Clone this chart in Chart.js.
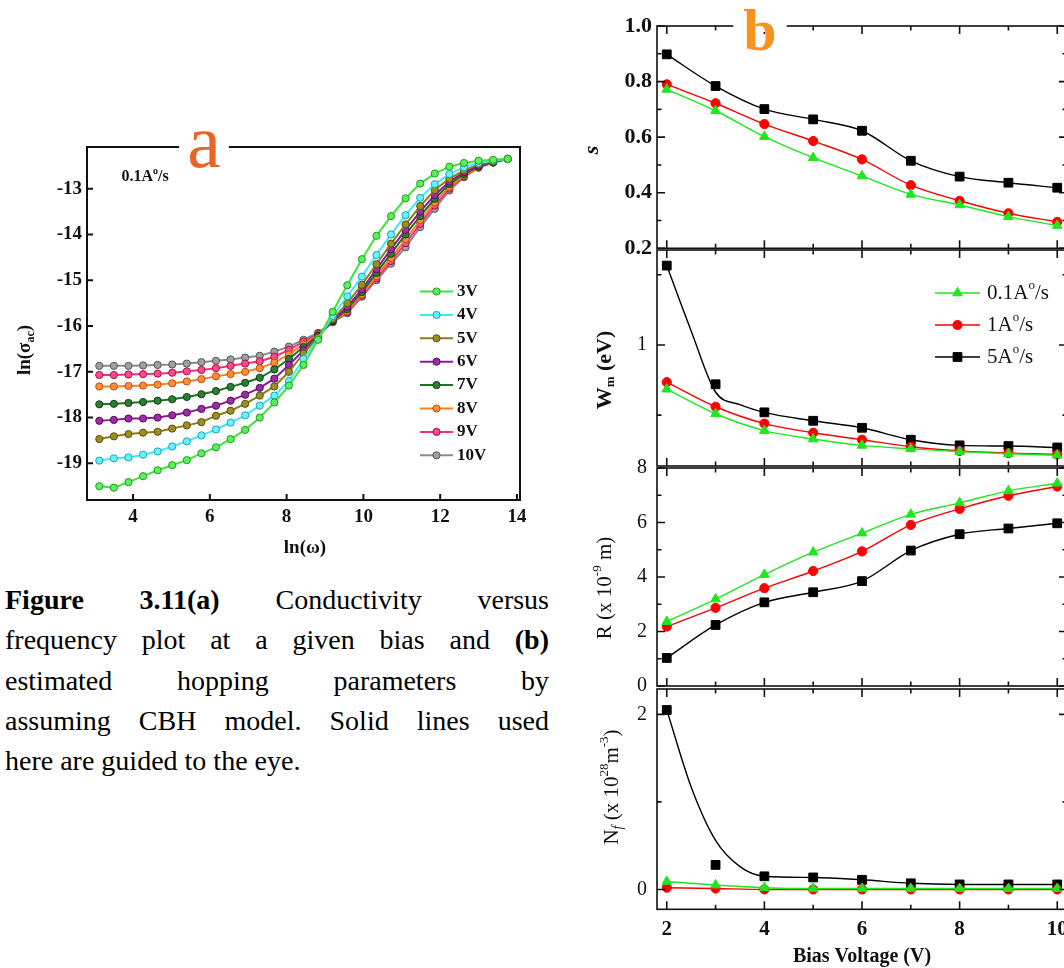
<!DOCTYPE html>
<html lang="en">
<head>
<meta charset="utf-8">
<title>Conductivity and hopping parameters</title>
<script src="https://cdn.jsdelivr.net/npm/chart.js@4.4.1/dist/chart.umd.min.js"></script>
<style>
    html, body { margin: 0; padding: 0; background: #fff; }
    body { position: relative; width: 1064px; height: 968px; overflow: hidden; }
    canvas { position: absolute; }
    #chartA { left: 0; top: 130px; }
    #chartS { left: 560px; top: 0; }
    #chartW { left: 560px; top: 228px; }
    #chartR { left: 560px; top: 446px; }
    #chartN { left: 560px; top: 667px; }
    #caption {
        position: absolute; left: 5px; top: 580px; width: 544px;
        font-family: "Liberation Serif", "Times New Roman", serif;
        font-size: 28px; line-height: 40.3px; color: #000;
    }
    #caption div { text-align: justify; text-align-last: justify; white-space: nowrap; }
    #caption div.last { text-align-last: left; }
</style>
</head>
<body>
<canvas id="chartA" width="545" height="440"></canvas>
<canvas id="chartS" width="522" height="270"></canvas>
<canvas id="chartW" width="522" height="260"></canvas>
<canvas id="chartR" width="522" height="262"></canvas>
<canvas id="chartN" width="522" height="301"></canvas>

<div id="caption">
    <div><b>Figure 3.11(a)</b> Conductivity versus</div>
    <div>frequency plot at a given bias and <b>(b)</b></div>
    <div>estimated hopping parameters by</div>
    <div>assuming CBH model. Solid lines used</div>
    <div class="last">here are guided to the eye.</div>
</div>

<script>
const SERIF = '"Liberation Serif", "Times New Roman", serif';

// ---------- (a) ln(sigma_ac) vs ln(omega), 0.1 A/s film ----------
const lnOmega = [3.12, 3.50, 3.88, 4.26, 4.64, 5.02, 5.40, 5.78, 6.16, 6.54, 6.92, 7.30, 7.68, 8.06, 8.44,
                 8.82, 9.20, 9.58, 9.96, 10.34, 10.72, 11.10, 11.48, 11.86, 12.24, 12.62, 13.00, 13.38, 13.76];
const sig3V  = [-19.50, -19.53, -19.41, -19.28, -19.15, -19.04, -18.93, -18.78, -18.65, -18.47, -18.27, -18.00, -17.67, -17.30, -16.85,
                -16.30, -15.69, -15.11, -14.54, -14.03, -13.60, -13.21, -12.89, -12.67, -12.52, -12.44, -12.39, -12.37, -12.35];
const sig4V  = [-18.94, -18.89, -18.87, -18.81, -18.74, -18.63, -18.52, -18.39, -18.26, -18.11, -17.95, -17.74, -17.52, -17.20, -16.72,
                -16.28, -15.78, -15.35, -14.92, -14.45, -14.00, -13.58, -13.20, -12.90, -12.68, -12.53, -12.44, -12.39, -12.35];
const sig5V  = [-18.47, -18.41, -18.36, -18.33, -18.31, -18.24, -18.17, -18.10, -17.96, -17.85, -17.70, -17.52, -17.32, -17.00, -16.60,
                -16.25, -15.85, -15.50, -15.10, -14.65, -14.20, -13.78, -13.38, -13.03, -12.78, -12.60, -12.47, -12.40, -12.35];
const sig6V  = [-18.07, -18.05, -18.02, -18.02, -18.00, -17.95, -17.89, -17.81, -17.74, -17.63, -17.50, -17.35, -17.15, -16.85, -16.53,
                -16.23, -15.88, -15.58, -15.20, -14.76, -14.32, -13.90, -13.50, -13.14, -12.85, -12.64, -12.50, -12.41, -12.35];
const sig7V  = [-17.71, -17.70, -17.68, -17.66, -17.63, -17.60, -17.55, -17.49, -17.42, -17.33, -17.24, -17.13, -16.95, -16.72, -16.46,
                -16.21, -15.90, -15.63, -15.26, -14.84, -14.42, -14.00, -13.60, -13.22, -12.90, -12.68, -12.52, -12.42, -12.35];
const sig8V  = [-17.32, -17.32, -17.31, -17.30, -17.28, -17.25, -17.21, -17.16, -17.10, -17.05, -17.00, -16.92, -16.80, -16.62, -16.40,
                -16.19, -15.91, -15.67, -15.31, -14.91, -14.51, -14.10, -13.69, -13.30, -12.96, -12.71, -12.53, -12.43, -12.35];
const sig9V  = [-17.07, -17.07, -17.06, -17.05, -17.04, -17.02, -16.99, -16.96, -16.92, -16.87, -16.82, -16.77, -16.67, -16.52, -16.34,
                -16.17, -15.91, -15.70, -15.34, -14.96, -14.58, -14.19, -13.77, -13.37, -13.00, -12.73, -12.54, -12.43, -12.35];
const sig10V = [-16.87, -16.87, -16.87, -16.86, -16.85, -16.84, -16.82, -16.79, -16.76, -16.73, -16.69, -16.65, -16.56, -16.45, -16.30,
                -16.15, -15.92, -15.72, -15.36, -15.00, -14.64, -14.28, -13.84, -13.44, -13.04, -12.75, -12.54, -12.43, -12.35];
const biasNames = ["3V", "4V", "5V", "6V", "7V", "8V", "9V", "10V"];
const aXTicks = [4, 6, 8, 10, 12, 14];
const aYTicks = [-13, -14, -15, -16, -17, -18, -19];

// ---------- (b) hopping parameters vs bias voltage ----------
const biasV = [2, 3, 4, 5, 6, 7, 8, 9, 10];
const rateNames = ["0.1A°/s", "1A°/s", "5A°/s"];

const s01 = [0.772, 0.695, 0.602, 0.526, 0.460, 0.394, 0.356, 0.314, 0.282];
const s1  = [0.790, 0.722, 0.647, 0.586, 0.520, 0.427, 0.371, 0.326, 0.295];
const s5  = [0.898, 0.784, 0.701, 0.664, 0.623, 0.515, 0.458, 0.436, 0.418];

const wm01 = [0.937, 0.902, 0.878, 0.866, 0.857, 0.852, 0.848, 0.845, 0.843];
const wm1  = [0.947, 0.912, 0.888, 0.875, 0.865, 0.855, 0.849, 0.846, 0.844];
const wm5  = [1.113, 0.944, 0.904, 0.892, 0.882, 0.865, 0.857, 0.856, 0.854];
// guide curve for the 5 A/s film (does not pass through every point)
const wm5GuideV = [2, 2.5, 3, 3.5, 4, 5, 6, 7, 8, 9, 10];
const wm5Guide  = [1.113, 1.02, 0.933, 0.915, 0.904, 0.892, 0.882, 0.865, 0.857, 0.856, 0.854];

const r01 = [2.36, 3.19, 4.09, 4.91, 5.61, 6.30, 6.72, 7.16, 7.44];
const r1  = [2.18, 2.87, 3.59, 4.22, 4.94, 5.91, 6.50, 6.98, 7.32];
const r5  = [1.03, 2.24, 3.07, 3.44, 3.85, 4.97, 5.57, 5.78, 5.97];

const nf01 = [0.09, 0.05, 0.02, 0.01, 0.01, 0.01, 0.01, 0.01, 0.01];
const nf1  = [0.02, 0.01, 0.0, 0.0, 0.0, 0.0, 0.0, 0.0, 0.0];
const nf5  = [2.05, 0.28, 0.15, 0.137, 0.11, 0.07, 0.057, 0.057, 0.057];
const nf5GuideV = [2, 2.5, 3, 3.5, 4, 5, 6, 7, 8, 9, 10];
const nf5Guide  = [2.05, 1.17, 0.56, 0.26, 0.15, 0.137, 0.11, 0.07, 0.057, 0.057, 0.057];

const bXTicks = [2, 4, 6, 8, 10];
const bXMinor = [3, 5, 7, 9];
const sTicks = [0.2, 0.4, 0.6, 0.8, 1.0];
const sMinor = [0.3, 0.5, 0.7, 0.9];
const wmTicks = [1.0];
const wmMinor = [0.9, 1.1];
const rTicks = [0, 2, 4, 6, 8];
const rMinor = [1, 3, 5, 7];
const nfTicks = [0, 2];
const nfMinor = [1];

// ---------- drawing helpers ----------
const pts = (xs, ys) => xs.map((x, i) => ({ x: x, y: ys[i] }));

function drawMarker(ctx, style, x, y, r, fill, stroke) {
    ctx.beginPath();
    if (style === "rect") {
        const h = r * Math.SQRT1_2;
        ctx.rect(x - h, y - h, 2 * h, 2 * h);
    } else if (style === "triangle") {
        for (let k = 0; k < 3; k++) {
            const ang = k * 2 * Math.PI / 3;
            const px = x + Math.sin(ang) * r, py = y - Math.cos(ang) * r;
            if (k) ctx.lineTo(px, py); else ctx.moveTo(px, py);
        }
        ctx.closePath();
    } else {
        ctx.arc(x, y, r, 0, 2 * Math.PI);
    }
    ctx.fillStyle = fill;
    ctx.fill();
    ctx.lineWidth = 1;
    ctx.strokeStyle = stroke;
    ctx.stroke();
}

// text made of runs (sub/superscripts), optionally rotated
function drawRuns(ctx, it) {
    ctx.save();
    ctx.translate(it.x, it.y);
    if (it.rot) ctx.rotate(it.rot);
    const ws = it.runs.map(r => { ctx.font = r.font; return ctx.measureText(r.t).width; });
    const w = ws.reduce((a, b) => a + b, 0);
    let x = it.align === "left" ? 0 : -w / 2;
    if (it.bg) {
        ctx.fillStyle = it.bg;
        ctx.fillRect(x - it.bgPad, it.bgTop, w + 2 * it.bgPad, it.bgH);
    }
    ctx.textBaseline = it.baseline || "middle";
    ctx.textAlign = "left";
    it.runs.forEach((r, i) => {
        ctx.font = r.font;
        ctx.fillStyle = r.color || "#111";
        ctx.fillText(r.t, x, r.dy || 0);
        x += ws[i];
    });
    ctx.restore();
}

function textLayer(items) {
    return { id: "textLayer", afterDraw(chart) { items.forEach(it => drawRuns(chart.ctx, it)); } };
}

// closed frame with inward tick marks
function frameLayer(o) {
    return {
        id: "frameLayer",
        afterDatasetsDraw(chart) {
            const { ctx, chartArea: a } = chart;
            const sx = chart.scales.x, sy = chart.scales.y;
            ctx.save();
            ctx.strokeStyle = "#111";
            ctx.lineWidth = o.lineWidth;
            ctx.beginPath();
            const xMark = (vals, len) => vals.forEach(v => {
                const p = sx.getPixelForValue(v);
                ctx.moveTo(p, a.bottom); ctx.lineTo(p, a.bottom - len);
                if (o.allSides) { ctx.moveTo(p, a.top); ctx.lineTo(p, a.top + len); }
            });
            const yMark = (vals, len) => vals.forEach(v => {
                const p = sy.getPixelForValue(v);
                ctx.moveTo(a.left, p); ctx.lineTo(a.left + len, p);
                if (o.allSides) { ctx.moveTo(a.right, p); ctx.lineTo(a.right - len, p); }
            });
            xMark(o.xMajor, o.majorLen);
            xMark(o.xMinor || [], o.minorLen);
            yMark(o.yMajor, o.majorLen);
            yMark(o.yMinor || [], o.minorLen);
            ctx.stroke();
            ctx.strokeRect(a.left, a.top, a.right - a.left, a.bottom - a.top);
            ctx.restore();
        }
    };
}

// legend drawn inside the plot area
function legendLayer(entries, g) {
    return {
        id: "legendLayer",
        afterDraw(chart) {
            const ctx = chart.ctx;
            entries.forEach((e, i) => {
                const y = g.y0 + i * g.dy;
                ctx.save();
                ctx.strokeStyle = e.line;
                ctx.lineWidth = g.lineWidth;
                ctx.beginPath();
                ctx.moveTo(g.x0, y); ctx.lineTo(g.x1, y);
                ctx.stroke();
                drawMarker(ctx, e.style, (g.x0 + g.x1) / 2, y, e.r, e.fill, e.stroke);
                ctx.restore();
                drawRuns(ctx, { x: g.tx, y: y, align: "left", runs: e.runs });
            });
        }
    };
}

// ---------- panel (a) ----------
const aSeries = [sig3V, sig4V, sig5V, sig6V, sig7V, sig8V, sig9V, sig10V];
const aColors = [
    { line: "#3ee43e", fill: "#5cf05c", edge: "#1c9c1c" },
    { line: "#3fe8f7", fill: "#6cf2ff", edge: "#17a4b6" },
    { line: "#8c7f16", fill: "#9c8e22", edge: "#5a5008" },
    { line: "#8c1c94", fill: "#a02aa8", edge: "#520f5a" },
    { line: "#1f7028", fill: "#2b7e33", edge: "#0f4214" },
    { line: "#ff7b22", fill: "#ff8c36", edge: "#b4520c" },
    { line: "#f5317c", fill: "#ff4c8e", edge: "#a0104a" },
    { line: "#8c8c8c", fill: "#a0a0a0", edge: "#555555" }
];

new Chart(document.getElementById("chartA"), {
    type: "line",
    data: {
        datasets: aSeries.map((ys, k) => ({
            label: biasNames[k],
            data: pts(lnOmega, ys),
            borderColor: aColors[k].line,
            borderWidth: 2,
            pointRadius: 3.6,
            pointBorderWidth: 1,
            pointBackgroundColor: aColors[k].fill,
            pointBorderColor: aColors[k].edge,
            tension: 0
        }))
    },
    options: {
        responsive: false,
        animation: false,
        devicePixelRatio: 1,
        layout: { padding: { left: 27, top: 17, right: 25, bottom: 20 } },
        plugins: { legend: { display: false }, tooltip: { enabled: false } },
        scales: {
            x: {
                type: "linear", min: 2.8, max: 14.08,
                afterBuildTicks: s => { s.ticks = aXTicks.map(v => ({ value: v })); },
                afterFit: s => { s.height = 50; },
                grid: { display: false, drawTicks: false },
                border: { display: false },
                ticks: { padding: 6, color: "#111", font: { family: SERIF, size: 19, weight: "bold" } }
            },
            y: {
                type: "linear", min: -19.8, max: -12.09,
                afterBuildTicks: s => { s.ticks = aYTicks.map(v => ({ value: v })); },
                afterFit: s => { s.width = 60; },
                grid: { display: false, drawTicks: false },
                border: { display: false },
                ticks: { padding: 5, color: "#111", font: { family: SERIF, size: 19, weight: "bold" } }
            }
        }
    },
    plugins: [
        frameLayer({ lineWidth: 2, allSides: false, xMajor: aXTicks, yMajor: aYTicks, majorLen: 6 }),
        legendLayer(biasNames.map((n, k) => ({
            line: aColors[k].line, style: "circle", r: 3.6, fill: aColors[k].fill, stroke: aColors[k].edge,
            runs: [{ t: n, font: "bold 17px " + SERIF }]
        })), { x0: 420, x1: 453, tx: 457, y0: 161.5, dy: 23.4, lineWidth: 2 }),
        textLayer([
            { x: 204, y: 37, baseline: "alphabetic", bg: "#fff", bgPad: 8, bgTop: -27, bgH: 14,
              runs: [{ t: "a", font: "76px " + SERIF, color: "#ea642a" }] },
            { x: 145, y: 47, runs: [
                { t: "0.1A", font: "bold 16px " + SERIF },
                { t: "o", font: "bold 10px " + SERIF, dy: -6 },
                { t: "/s", font: "bold 16px " + SERIF }] },
            { x: 25, y: 220, rot: -Math.PI / 2, runs: [
                { t: "ln(σ", font: "bold 19px " + SERIF },
                { t: "ac", font: "bold 12px " + SERIF, dy: 6 },
                { t: ")", font: "bold 19px " + SERIF }] },
            { x: 305, y: 418, runs: [{ t: "ln(ω)", font: "bold 19px " + SERIF }] }
        ])
    ]
});

// ---------- panel (b) ----------
const bStyles = [
    { color: "#1fe61f", style: "triangle", r: 5.6 },
    { color: "#ff0000", style: "circle", r: 4.6 },
    { color: "#000000", style: "rect", r: 6.2 }
];

function rateSet(k, ys, extra) {
    const st = bStyles[k];
    return Object.assign({
        label: rateNames[k],
        data: pts(biasV, ys),
        borderColor: st.color,
        borderWidth: 1.4,
        pointStyle: st.style,
        pointRadius: st.r,
        pointBackgroundColor: st.color,
        pointBorderColor: st.color,
        pointBorderWidth: 1,
        cubicInterpolationMode: "monotone"
    }, extra || {});
}

function guideSet(xs, ys) {
    return {
        data: pts(xs, ys),
        borderColor: "#000",
        borderWidth: 1.4,
        pointRadius: 0,
        cubicInterpolationMode: "monotone"
    };
}

function hopChart(id, c) {
    return new Chart(document.getElementById(id), {
        type: "line",
        data: { datasets: c.datasets },
        options: {
            responsive: false,
            animation: false,
            devicePixelRatio: 1,
            layout: { padding: c.padding },
            plugins: { legend: { display: false }, tooltip: { enabled: false } },
            scales: {
                x: {
                    type: "linear", min: 1.8, max: 10.2,
                    display: !!c.showX,
                    afterBuildTicks: s => { s.ticks = bXTicks.map(v => ({ value: v })); },
                    afterFit: s => { s.height = c.xHeight || 0; },
                    grid: { display: false, drawTicks: false },
                    border: { display: false },
                    ticks: { padding: 8, color: "#111", font: { family: SERIF, size: 21, weight: "bold" } }
                },
                y: {
                    type: "linear", min: c.min, max: c.max,
                    afterBuildTicks: s => { s.ticks = c.yTicks.map(v => ({ value: v })); },
                    afterFit: s => { s.width = 50; },
                    grid: { display: false, drawTicks: false },
                    border: { display: false },
                    ticks: {
                        padding: c.tickPad, color: "#111",
                        font: { family: SERIF, size: c.tickSize, weight: c.tickWeight },
                        callback: c.fmt
                    }
                }
            }
        },
        plugins: [
            frameLayer({ lineWidth: 1.6, allSides: true, xMajor: bXTicks, xMinor: bXMinor,
                         yMajor: c.yTicks, yMinor: c.yMinor, majorLen: 8, minorLen: 4.5 })
        ].concat(c.layers || [])
    });
}

const rateRuns = (name, size) => {
    const [pre, post] = name.split("°");
    return [
        { t: pre, font: size + "px " + SERIF },
        { t: "o", font: Math.round(size * 0.6) + "px " + SERIF, dy: -7 },
        { t: post, font: size + "px " + SERIF }
    ];
};

// s
hopChart("chartS", {
    padding: { left: 47, top: 26, right: 15, bottom: 21.7 },
    min: 0.2, max: 1.0, yTicks: sTicks, yMinor: sMinor,
    tickPad: 5, tickSize: 22, tickWeight: "bold", fmt: v => v.toFixed(1),
    datasets: [rateSet(0, s01), rateSet(1, s1), rateSet(2, s5)],
    layers: [textLayer([
        { x: 200, y: 50, baseline: "alphabetic", bg: "#fff", bgPad: 10, bgTop: -30, bgH: 12,
          runs: [{ t: "b", font: "bold 60px " + SERIF, color: "#f7931e" }] },
        { x: 32, y: 150, rot: -Math.PI / 2, runs: [{ t: "s", font: "italic bold 22px " + SERIF }] }
    ])]
});

// W_m
hopChart("chartW", {
    padding: { left: 47, top: 20.3, right: 15, bottom: 21.3 },
    min: 0.8276, max: 1.1352, yTicks: wmTicks, yMinor: wmMinor,
    tickPad: 10, tickSize: 20, tickWeight: "normal", fmt: v => String(Math.round(v)),
    datasets: [
        rateSet(0, wm01), rateSet(1, wm1), rateSet(2, wm5, { showLine: false }),
        guideSet(wm5GuideV, wm5Guide)
    ],
    layers: [
        textLayer([
            { x: 45, y: 142, rot: -Math.PI / 2, runs: [
                { t: "W", font: "bold 22px " + SERIF },
                { t: "m", font: "bold 13px " + SERIF, dy: 6 },
                { t: " (eV)", font: "bold 22px " + SERIF }] }
        ]),
        legendLayer(bStyles.map((st, k) => ({
            line: st.color, style: st.style, r: st.r, fill: st.color, stroke: st.color,
            runs: rateRuns(rateNames[k], 21)
        })), { x0: 375, x1: 420, tx: 427, y0: 65, dy: 32, lineWidth: 1.4 })
    ]
});

// R
hopChart("chartR", {
    padding: { left: 47, top: 20.7, right: 15, bottom: 20.3 },
    min: 0, max: 8, yTicks: rTicks, yMinor: rMinor,
    tickPad: 10, tickSize: 20, tickWeight: "normal", fmt: v => String(v),
    datasets: [rateSet(0, r01), rateSet(1, r1), rateSet(2, r5)],
    layers: [textLayer([
        { x: 45, y: 142, rot: -Math.PI / 2, runs: [
            { t: "R (x 10", font: "21px " + SERIF },
            { t: "-9", font: "13px " + SERIF, dy: -7 },
            { t: " m)", font: "21px " + SERIF }] }
    ])]
});

// N_f
hopChart("chartN", {
    padding: { left: 47, top: 20.7, right: 15, bottom: 0 },
    showX: true, xHeight: 58.7,
    min: -0.227, max: 2.29, yTicks: nfTicks, yMinor: nfMinor,
    tickPad: 10, tickSize: 20, tickWeight: "normal", fmt: v => String(v),
    datasets: [
        rateSet(0, nf01), rateSet(1, nf1), rateSet(2, nf5, { showLine: false }),
        guideSet(nf5GuideV, nf5Guide)
    ],
    layers: [textLayer([
        { x: 52, y: 120, rot: -Math.PI / 2, runs: [
            { t: "N", font: "21px " + SERIF },
            { t: "f", font: "italic 14px " + SERIF, dy: 6 },
            { t: " (x 10", font: "21px " + SERIF },
            { t: "28", font: "13px " + SERIF, dy: -7 },
            { t: "m", font: "21px " + SERIF },
            { t: "-3", font: "13px " + SERIF, dy: -7 },
            { t: ")", font: "21px " + SERIF }] },
        { x: 302, y: 290, runs: [{ t: "Bias Voltage (V)", font: "bold 20px " + SERIF }] }
    ])]
});
</script>
</body>
</html>
